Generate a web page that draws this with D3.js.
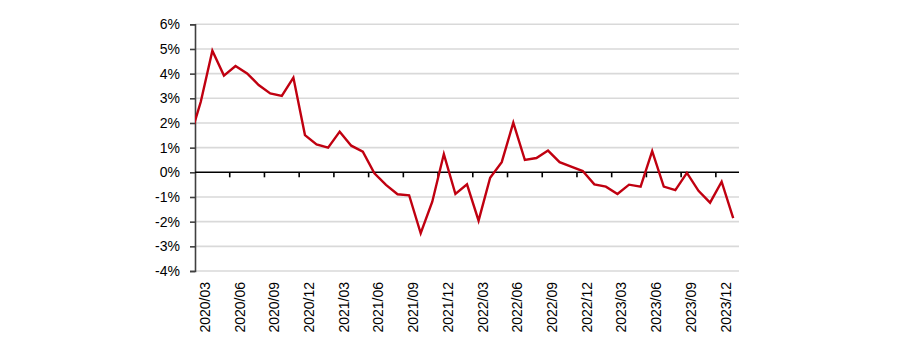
<!DOCTYPE html>
<html>
<head>
<meta charset="utf-8">
<script src="https://cdn.jsdelivr.net/npm/d3@7"></script>
<style>
  html, body { margin: 0; padding: 0; background: #fff; }
  svg { display: block; }
  text { font-family: "Liberation Sans", Arial, sans-serif; fill: #000; }
</style>
</head>
<body>
<svg id="chart" width="900" height="346"></svg>
<script>
// Monthly change, % — the first entry (2020/02) sits just left of the plot and is clipped.
const months = [
  "2020/02",
  "2020/03","2020/04","2020/05","2020/06","2020/07","2020/08","2020/09","2020/10","2020/11","2020/12",
  "2021/01","2021/02","2021/03","2021/04","2021/05","2021/06","2021/07","2021/08","2021/09","2021/10","2021/11","2021/12",
  "2022/01","2022/02","2022/03","2022/04","2022/05","2022/06","2022/07","2022/08","2022/09","2022/10","2022/11","2022/12",
  "2023/01","2023/02","2023/03","2023/04","2023/05","2023/06","2023/07","2023/08","2023/09","2023/10","2023/11","2023/12",
  "2024/01"
];
const values = [
  1.3,
  2.86, 4.93, 3.92, 4.31, 4.01, 3.54, 3.20, 3.10, 3.84, 1.51,
  1.13, 1.00, 1.65, 1.08, 0.84, -0.04, -0.51, -0.89, -0.93, -2.47, -1.19, 0.74,
  -0.88, -0.49, -1.96, -0.22, 0.41, 2.01, 0.50, 0.58, 0.88, 0.41, 0.23, 0.05,
  -0.49, -0.58, -0.88, -0.50, -0.58, 0.86, -0.58, -0.72, -0.02, -0.75, -1.23, -0.38,
  -1.86
];
// Category axis shows 2020/03 .. 2024/01
const axisStart = "2020/03";
const xTickLabels = ["2020/03","2020/06","2020/09","2020/12","2021/03","2021/06","2021/09","2021/12",
                     "2022/03","2022/06","2022/09","2022/12","2023/03","2023/06","2023/09","2023/12"];
const yTicks = [-4, -3, -2, -1, 0, 1, 2, 3, 4, 5, 6];

const svg = d3.select("#chart");
const plotLeft = 195, plotRight = 739, plotTop = 24.3, plotBottom = 271;
const fontSize = 14;

const startIdx = months.indexOf(axisStart);
const nCats = months.length - startIdx;
// index relative to 2020/03; categories centred between tick marks
const x = d3.scaleLinear().domain([-0.5, nCats - 0.5]).range([plotLeft, plotRight]);
const y = d3.scaleLinear().domain([-4, 6]).range([plotBottom, plotTop]);
const idx = m => months.indexOf(m) - startIdx;

// horizontal gridlines
svg.append("g").selectAll("line").data(yTicks.filter(d => d !== 0)).join("line")
  .attr("x1", plotLeft).attr("x2", plotRight)
  .attr("y1", d => y(d)).attr("y2", d => y(d))
  .attr("stroke", "#d9d9d9").attr("stroke-width", 1.6);

// y axis with outward ticks
const yAxis = d3.axisLeft(y).tickValues(yTicks).tickSize(5).tickPadding(10)
  .tickFormat(d => d + "%");
const gy = svg.append("g").attr("transform", `translate(${plotLeft},0)`).call(yAxis);
gy.select(".domain").attr("stroke", "#404040").attr("stroke-width", 1.6);
gy.selectAll(".tick line").attr("stroke", "#404040").attr("stroke-width", 1.6);
gy.selectAll(".tick text").attr("font-size", fontSize).attr("font-family", "Liberation Sans, Arial, sans-serif")
  .attr("fill", "#111");

// zero line carrying the category ticks
const tickBounds = xTickLabels.map(m => idx(m) - 0.5).filter(v => v > -0.5);
const gx = svg.append("g").attr("transform", `translate(0,${y(0)})`);
gx.append("line").attr("x1", plotLeft).attr("x2", plotRight).attr("stroke", "#000").attr("stroke-width", 1.6);
gx.selectAll("line.tk").data(tickBounds).join("line").attr("class", "tk")
  .attr("x1", d => x(d)).attr("x2", d => x(d)).attr("y1", 0).attr("y2", 5)
  .attr("stroke", "#000").attr("stroke-width", 1.6);

// rotated category labels below the plot
svg.append("g").selectAll("text").data(xTickLabels).join("text")
  .attr("transform", d => `translate(${x(idx(d)) + 9},${plotBottom + 11}) rotate(-90)`)
  .attr("text-anchor", "end")
  .attr("font-size", fontSize)
  .attr("fill", "#111")
  .text(d => d);

// series line, clipped to the plot area
svg.append("clipPath").attr("id", "plot").append("rect")
  .attr("x", plotLeft).attr("y", 0).attr("width", plotRight - plotLeft).attr("height", 346);
const line = d3.line().x((d, i) => x(i - startIdx)).y(d => y(d));
svg.append("path").datum(values)
  .attr("clip-path", "url(#plot)")
  .attr("d", line)
  .attr("fill", "none")
  .attr("stroke", "#c00010")
  .attr("stroke-width", 2.4)
  .attr("stroke-linejoin", "miter");
</script>
</body>
</html>
